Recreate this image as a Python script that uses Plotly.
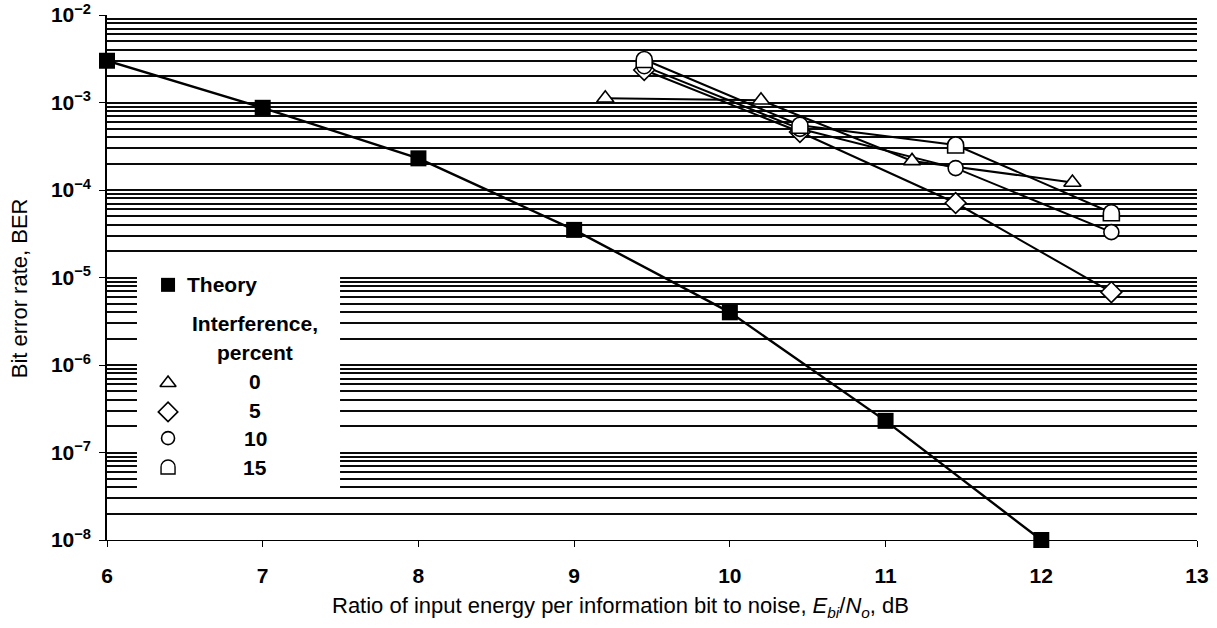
import plotly.graph_objects as go

# ---------------- data ----------------
theory_x = [6, 7, 8, 9, 10, 11, 12]
theory_ber = [3.0e-3, 8.7e-4, 2.3e-4, 3.5e-5, 4.0e-6, 2.3e-7, 1.0e-8]

i0_x = [9.2, 10.2, 11.17, 12.2]
i0_ber = [1.12e-3, 1.06e-3, 2.15e-4, 1.22e-4]

i5_x = [9.45, 10.45, 11.45, 12.45]
i5_ber = [2.35e-3, 4.6e-4, 7.1e-5, 6.8e-6]

i10_x = [9.45, 10.45, 11.45, 12.45]
i10_ber = [2.6e-3, 5.0e-4, 1.78e-4, 3.3e-5]

i15_x = [9.45, 10.45, 11.45, 12.45]
i15_ber = [3.1e-3, 5.5e-4, 3.27e-4, 5.5e-5]

x_tickvals = [6, 7, 8, 9, 10, 11, 12, 13]
y_exponents = [-8, -7, -6, -5, -4, -3, -2]
y_tickvals = [10.0 ** e for e in y_exponents]
y_ticktext = ["10<sup>\u2212%d</sup>" % (-e) for e in y_exponents]

legend_title_lines = ["Interference,", "percent"]
legend_percents = ["0", "5", "10", "15"]
theory_label = "Theory"

x_title = ("Ratio of input energy per information bit to noise, "
           "<i>E<sub>bi</sub></i>/<i>N<sub>o</sub></i>, dB")
y_title = "Bit error rate, BER"

# ---------------- styling ----------------
FONT = "Liberation Sans, Arial, Helvetica, sans-serif"
BLACK = "#000000"
GRID = "#0a0a0a"

minor_vals = [k * 10.0 ** e for e in range(-8, -2) for k in range(2, 10)]

fig = go.Figure()

open_marker = dict(color="white", line=dict(color=BLACK, width=1.6))

# Theory
fig.add_trace(go.Scatter(
    x=theory_x, y=theory_ber, mode="lines+markers",
    line=dict(color=BLACK, width=2.4),
    marker=dict(symbol="square", size=16, color=BLACK),
    showlegend=False, cliponaxis=False))

# Interference series: lines first
for xs, ys in [(i0_x, i0_ber), (i5_x, i5_ber), (i10_x, i10_ber), (i15_x, i15_ber)]:
    fig.add_trace(go.Scatter(x=xs, y=ys, mode="lines",
                             line=dict(color=BLACK, width=2.0),
                             showlegend=False))

fig.add_trace(go.Scatter(x=i5_x, y=i5_ber, mode="markers",
                         marker=dict(symbol="diamond", size=16, **open_marker),
                         showlegend=False))
fig.add_trace(go.Scatter(x=i10_x, y=i10_ber, mode="markers",
                         marker=dict(symbol="circle", size=15, **open_marker),
                         showlegend=False))
fig.add_trace(go.Scatter(x=i0_x, y=i0_ber, mode="markers",
                         marker=dict(symbol="triangle-up", size=15, **open_marker),
                         showlegend=False))


def d_path(r):
    k = 0.5523 * r
    return (f"M {-r},{-r} L {r},{-r} L {r},0 "
            f"C {r},{k} {k},{r} 0,{r} C {-k},{r} {-r},{k} {-r},0 Z")


shapes = []
# 15 % markers: a "D" shape (round top, flat bottom), anchored at data values
for xv, yv in zip(i15_x, i15_ber):
    shapes.append(dict(type="path", xref="x", yref="y",
                       xsizemode="pixel", ysizemode="pixel",
                       xanchor=xv, yanchor=yv, path=d_path(8),
                       fillcolor="white", line=dict(color=BLACK, width=1.6),
                       layer="above"))
# legend "D" symbol
shapes.append(dict(type="path", xref="paper", yref="paper",
                   xsizemode="pixel", ysizemode="pixel",
                   xanchor=0.056, yanchor=0.139, path=d_path(7),
                   fillcolor="white", line=dict(color=BLACK, width=1.4),
                   layer="above"))

# legend box: white panel on an overlay (paper-like) axis pair, hides grid lines
box_x0, box_x1, box_y0, box_y1 = 0.0275, 0.2138, 0.086, 0.543
fig.add_trace(go.Scatter(x=[box_x0, box_x1, box_x1, box_x0, box_x0],
                         y=[box_y0, box_y0, box_y1, box_y1, box_y0],
                         mode="lines", fill="toself", fillcolor="white",
                         line=dict(width=0, color="white"),
                         xaxis="x2", yaxis="y2", showlegend=False, hoverinfo="skip"))

# legend markers
leg_x = 0.056
fig.add_trace(go.Scatter(x=[leg_x], y=[0.486], mode="markers",
                         marker=dict(symbol="square", size=14, color=BLACK),
                         xaxis="x2", yaxis="y2", showlegend=False, hoverinfo="skip"))
fig.add_trace(go.Scatter(x=[leg_x], y=[0.299], mode="markers",
                         marker=dict(symbol="triangle-up", size=14, **open_marker),
                         xaxis="x2", yaxis="y2", showlegend=False, hoverinfo="skip"))
fig.add_trace(go.Scatter(x=[leg_x], y=[0.244], mode="markers",
                         marker=dict(symbol="diamond", size=15, **open_marker),
                         xaxis="x2", yaxis="y2", showlegend=False, hoverinfo="skip"))
fig.add_trace(go.Scatter(x=[leg_x], y=[0.194], mode="markers",
                         marker=dict(symbol="circle", size=13, **open_marker),
                         xaxis="x2", yaxis="y2", showlegend=False, hoverinfo="skip"))

annotations = []
tfont = dict(family=FONT, size=21, color=BLACK, weight="bold")
annotations.append(dict(x=0.072, y=0.486, xref="paper", yref="paper",
                        text=theory_label, showarrow=False, xanchor="left",
                        yanchor="middle", font=tfont))
for txt, yy in zip(legend_title_lines, [0.413, 0.358]):
    annotations.append(dict(x=0.1358, y=yy, xref="paper", yref="paper",
                            text=txt, showarrow=False, xanchor="center",
                            yanchor="middle", font=tfont))
for txt, yy in zip(legend_percents, [0.301, 0.247, 0.194, 0.139]):
    annotations.append(dict(x=0.1358, y=yy, xref="paper", yref="paper",
                            text=txt, showarrow=False, xanchor="center",
                            yanchor="middle", font=tfont))
# axis titles (placed as in the reference)
annotations.append(dict(x=0.471, y=-0.128, xref="paper", yref="paper",
                        text=x_title, showarrow=False, xanchor="center",
                        yanchor="middle",
                        font=dict(family=FONT, size=22, color=BLACK)))
annotations.append(dict(x=-0.0805, y=0.48, xref="paper", yref="paper",
                        text=y_title, showarrow=False, xanchor="center",
                        yanchor="middle", textangle=-90,
                        font=dict(family=FONT, size=22, color=BLACK)))

fig.update_layout(
    width=1217, height=628,
    margin=dict(l=107, r=20, t=15, b=88, pad=0),
    paper_bgcolor="white", plot_bgcolor="white",
    font=dict(family=FONT, color=BLACK, size=18),
    showlegend=False, hovermode=False,
    shapes=shapes, annotations=annotations,
    xaxis=dict(
        range=[6, 13], tickvals=x_tickvals, ticktext=[str(v) for v in x_tickvals],
        showgrid=False, zeroline=False, automargin=False,
        showline=True, linecolor=BLACK, linewidth=1.2,
        ticks="outside", ticklen=6, tickwidth=1.2, tickcolor=BLACK,
        tickfont=dict(family=FONT, size=21, color=BLACK, weight="bold"),
        ticklabelstandoff=11,
    ),
    yaxis=dict(
        type="log", range=[-8, -2], tickvals=y_tickvals, ticktext=y_ticktext,
        showgrid=True, gridcolor=GRID, gridwidth=1.5,
        zeroline=False, showline=True, linecolor=BLACK, linewidth=1.6,
        automargin=False,
        ticks="outside", ticklen=6, tickwidth=1.2, tickcolor=BLACK,
        tickfont=dict(family=FONT, size=21, color=BLACK, weight="bold"),
        ticklabelstandoff=4,
        minor=dict(tickvals=minor_vals, showgrid=True, gridcolor=GRID,
                   gridwidth=1.5, ticks=""),
    ),
    xaxis2=dict(overlaying="x", range=[0, 1], visible=False, fixedrange=True),
    yaxis2=dict(overlaying="y", range=[0, 1], visible=False, fixedrange=True),
)

fig.write_html("out.html",
               config={"displayModeBar": False},
               post_script="document.body.style.margin='0px';")
